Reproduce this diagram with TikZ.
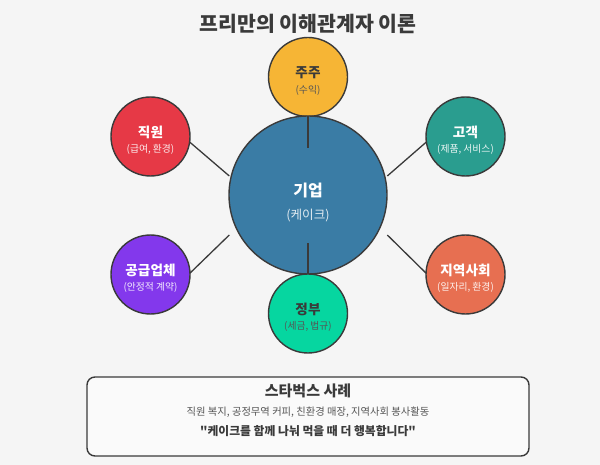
\documentclass[tikz,border=0pt]{standalone}
\usepackage{fontspec}
\setmainfont{Noto Sans CJK KR}
\newfontfamily\plainq{Noto Sans CJK KR}
\definecolor{bgc}{HTML}{F5F5F5}
\definecolor{ink}{HTML}{3A3A3A}
\definecolor{cblue}{HTML}{3A7CA5}
\definecolor{cyel}{HTML}{F6B535}
\definecolor{cred}{HTML}{E63946}
\definecolor{cteal}{HTML}{2A9D8F}
\definecolor{corg}{HTML}{E76F51}
\definecolor{cpur}{HTML}{8338EC}
\definecolor{cgrn}{HTML}{06D6A0}
\definecolor{subg}{HTML}{555555}
\tikzset{
  bub/.style={circle,draw=ink,line width=1.4pt,minimum size=79pt,inner sep=0pt,outer sep=0pt},
  link/.style={draw=ink,line width=1.3pt},
  nm/.style={font=\fontsize{13.6}{15}\selectfont\bfseries,inner sep=0pt},
  sb/.style={font=\fontsize{9.8}{11}\selectfont,inner sep=0pt}
}
\begin{document}
\begin{tikzpicture}[x=1pt,y=-1pt]
\path[fill=bgc] (0,0) rectangle (600,465);
\useasboundingbox (0,0) rectangle (600,465);
\node[font=\fontsize{20.5}{22}\selectfont\bfseries,text=ink,inner sep=0pt] (title) at (308,24) {프리만의 이해관계자 이론};
\node[bub,fill=cyel] (sh) at (308,77) {};
\node[bub,fill=cred] (em) at (150.5,136.5) {};
\node[bub,fill=cteal] (cu) at (465.5,136.5) {};
\node[bub,fill=cpur] (su) at (150.5,274.5) {};
\node[bub,fill=corg] (co) at (465.5,274.5) {};
\node[bub,fill=cblue,minimum size=158pt] (firm) at (308,195) {};
\node[bub,fill=cgrn] (go) at (308,313.5) {};
\coordinate (fnw) at (229.3,176);
\coordinate (fsw) at (229.3,235);
\coordinate (fne) at (387.3,176);
\coordinate (fse) at (387.3,235);
\coordinate (topend) at (308,148);
\coordinate (botend) at (308,243);
\draw[link,line width=1.6pt] (sh.south) -- (topend);
\draw[link,line width=1.6pt] (go.north) -- (botend);
\draw[link] (em.-8) -- (fnw);
\draw[link] (su.2) -- (fsw);
\draw[link] (cu.188) -- (fne);
\draw[link] (co.178) -- (fse);
\node[font=\fontsize{16}{18}\selectfont\bfseries,text=white,inner sep=0pt] (firmn) at (308,190.5) {기업};
\node[font=\fontsize{12.6}{14}\selectfont,text=white!85!cblue,inner sep=0pt] (firms) at (308,215.5) {(케이크)};
\node[nm,text=ink] (shn) at (308,73) {주주};
\node[sb,text=subg] (shs) at (308,90) {(수익)};
\node[nm,text=white] (emn) at (150.5,132.5) {직원};
\node[sb,text=white!90!cred] (ems) at (150.5,149.5) {(급여, 환경)};
\node[nm,text=white] (cun) at (465.5,132.5) {고객};
\node[sb,text=white!90!cteal] (cus) at (465.5,149.5) {(제품, 서비스)};
\node[nm,text=white] (sun) at (150.5,270) {공급업체};
\node[sb,text=white!90!cpur] (sus) at (150.5,287) {(안정적 계약)};
\node[nm,text=white] (con) at (465.5,270) {지역사회};
\node[sb,text=white!90!corg] (cos) at (465.5,287) {(일자리, 환경)};
\node[nm,text=ink] (gon) at (308,309) {정부};
\node[sb,text=subg] (gos) at (308,326) {(세금, 법규)};
\node[draw=ink,line width=1.4pt,fill=bgc!50!white,rounded corners=8pt,minimum width=442pt,minimum height=79pt,inner sep=0pt,outer sep=0pt] (case) at (308,416.5) {};
\node[font=\fontsize{15}{17}\selectfont\bfseries,text=ink,inner sep=0pt] (caset) at (308,390.5) {스타벅스 사례};
\node[font=\fontsize{10.3}{12}\selectfont,text=subg,inner sep=0pt] (cased) at (308,412) {직원 복지, 공정무역 커피, 친환경 매장, 지역사회 봉사활동};
\node[font=\fontsize{11.8}{14}\selectfont\bfseries,text=ink,inner sep=0pt] (caseq) at (308,431) {\plainq\bfseries "케이크를 함께 나눠 먹을 때 더 행복합니다"};
\end{tikzpicture}
\end{document}
